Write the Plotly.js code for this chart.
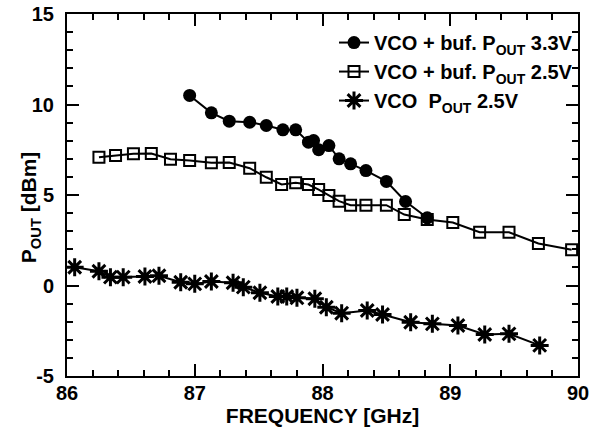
<!DOCTYPE html>
<html>
<head>
<meta charset="utf-8">
<script src="https://cdn.plot.ly/plotly-3.0.1.min.js"></script>
<style>html,body{margin:0;padding:0;background:#fff;}#chart{width:600px;height:436px;}</style>
</head>
<body>
<div id="chart"></div>
<script>
// Series 1: VCO + buf. POUT 3.3V
const freq33 = [86.96, 87.13, 87.27, 87.43, 87.56, 87.69, 87.79, 87.89, 87.93, 87.97, 88.05, 88.13, 88.22, 88.34, 88.50, 88.65, 88.82];
const pout33 = [10.50, 9.54, 9.08, 9.02, 8.84, 8.60, 8.60, 7.92, 8.01, 7.50, 7.73, 7.00, 6.72, 6.35, 5.75, 4.64, 3.74];
// Series 2: VCO + buf. POUT 2.5V
const freqBuf25 = [86.25, 86.38, 86.52, 86.66, 86.81, 86.96, 87.13, 87.27, 87.43, 87.56, 87.68, 87.79, 87.89, 87.97, 88.05, 88.13, 88.22, 88.34, 88.50, 88.64, 88.82, 89.02, 89.23, 89.46, 89.69, 89.95];
const poutBuf25 = [7.09, 7.18, 7.28, 7.29, 6.98, 6.91, 6.78, 6.80, 6.48, 5.98, 5.58, 5.67, 5.58, 5.30, 4.97, 4.66, 4.44, 4.44, 4.44, 3.92, 3.65, 3.48, 2.94, 2.94, 2.32, 1.97];
// Series 3: VCO POUT 2.5V
const freqVco25 = [86.06, 86.25, 86.34, 86.44, 86.61, 86.72, 86.89, 87.00, 87.13, 87.30, 87.38, 87.51, 87.65, 87.72, 87.80, 87.94, 88.03, 88.15, 88.35, 88.47, 88.69, 88.86, 89.06, 89.27, 89.46, 89.70];
const poutVco25 = [1.01, 0.79, 0.46, 0.46, 0.50, 0.54, 0.18, 0.09, 0.22, 0.15, -0.09, -0.40, -0.61, -0.61, -0.68, -0.73, -1.20, -1.53, -1.38, -1.60, -2.03, -2.12, -2.21, -2.71, -2.67, -3.31];

const names = ["VCO + buf. P<sub>OUT</sub> 3.3V", "VCO + buf. P<sub>OUT</sub> 2.5V", "VCO  P<sub>OUT</sub> 2.5V"];
const xTicks = [86, 87, 88, 89, 90];
const yTicks = [-5, 0, 5, 10, 15];
const xTitle = "FREQUENCY [GHz]";
const yTitle = "P<sub>OUT</sub> [dBm]";

const FONT = "Liberation Sans, Arial, Helvetica, sans-serif";
const lineStyle = {color: "#000", width: 2};

const traces = [
  {x: freq33, y: pout33, name: names[0], mode: "lines+markers", line: lineStyle,
   marker: {symbol: "circle", size: 13, color: "#000"}},
  {x: freqBuf25, y: poutBuf25, name: names[1], mode: "lines+markers", line: lineStyle,
   marker: {symbol: "square-open", size: 11, color: "#000", line: {width: 2, color: "#000"}}},
  {x: freqVco25, y: poutVco25, name: names[2], mode: "lines+markers", line: lineStyle,
   marker: {symbol: "asterisk-open", size: 15, color: "#000", line: {width: 3, color: "#000"}}}
];

const axisCommon = {
  showgrid: false, zeroline: false, showline: true, linecolor: "#000", linewidth: 2,
  mirror: "allticks", ticks: "inside", ticklen: 12, tickwidth: 2, tickcolor: "#000",
  tickfont: {family: FONT, size: 20, color: "#000", weight: "bold"},
  minor: {ticks: "inside", ticklen: 6, tickwidth: 2, tickcolor: "#000"}
};

const layout = {
  width: 600, height: 436,
  margin: {l: 67, r: 22, t: 14, b: 60},
  paper_bgcolor: "#fff", plot_bgcolor: "#fff",
  font: {family: FONT, color: "#000"},
  showlegend: true,
  legend: {x: 1.0, y: 0.975, xanchor: "right", yanchor: "top", bgcolor: "rgba(0,0,0,0)",
           font: {family: FONT, size: 20, color: "#000", weight: "bold"}, itemwidth: 30, tracegroupgap: 0},
  xaxis: Object.assign({}, axisCommon, {
    range: [86, 90], tickmode: "array", tickvals: xTicks, ticktext: xTicks.map(String),
    ticklabelstandoff: -2,
    minor: Object.assign({}, axisCommon.minor, {dtick: 0.2, tick0: 86}),
    title: {text: xTitle, font: {family: FONT, size: 21, color: "#000", weight: "bold"}, standoff: 2}
  }),
  yaxis: Object.assign({}, axisCommon, {
    range: [-5, 15], tickmode: "array", tickvals: yTicks, ticktext: yTicks.map(String),
    ticklabelstandoff: 7,
    minor: Object.assign({}, axisCommon.minor, {dtick: 1, tick0: 0})
  }),
  annotations: [{
    text: yTitle, xref: "paper", yref: "paper", x: -0.072, y: 0.467,
    xanchor: "center", yanchor: "middle", textangle: -90, showarrow: false,
    font: {family: FONT, size: 21, color: "#000", weight: "bold"}
  }]
};

Plotly.newPlot("chart", traces, layout, {displayModeBar: false, staticPlot: true});
</script>
</body>
</html>
